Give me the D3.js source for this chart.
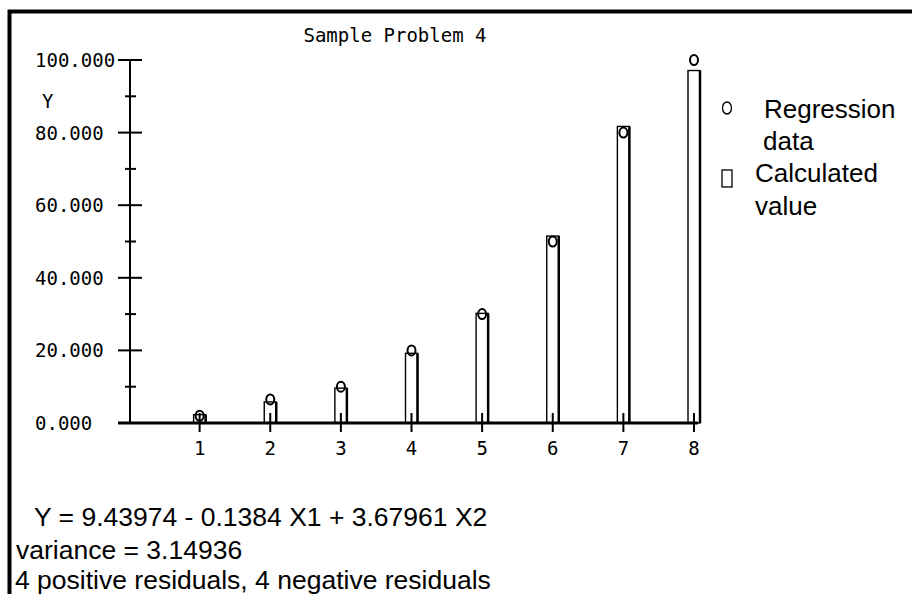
<!DOCTYPE html>
<html>
<head>
<meta charset="utf-8">
<script src="https://cdn.jsdelivr.net/npm/d3@7"></script>
<style>
    body { margin: 0; background: #fff; }
    svg { display: block; }
    .mono { font-family: "DejaVu Sans Mono", monospace; font-size: 19px; fill: #000; }
    .sans { font-family: "Liberation Sans", Arial, sans-serif; font-size: 26px; fill: #000; }
    .note { font-family: "Liberation Sans", Arial, sans-serif; font-size: 26.5px; fill: #000; }
</style>
</head>
<body>
<svg></svg>
<script>
const categories = [1, 2, 3, 4, 5, 6, 7, 8]
const regressionData = [2, 6.5, 10, 20, 30, 50, 80, 100]
const calculatedValue = [2.3, 5.8, 9.6, 19.2, 30.2, 51.5, 81.7, 97.1]
const majorTicks = [0, 20, 40, 60, 80, 100]
const minorTicks = [10, 30, 50, 70, 90]
const legendLabels = [["Regression", "data"], ["Calculated", "value"]]
const notes = [
    "Y = 9.43974 - 0.1384 X1 + 3.67961 X2",
    "variance = 3.14936",
    "4 positive residuals, 4 negative residuals"
]

const
    width = 912,
    height = 594

const svg = d3.select("svg")
    .attr("width", width)
    .attr("height", height)

const x = d3.scaleLinear()
    .domain([0, 8])
    .range([129, 694])

const y = d3.scaleLinear()
    .domain([0, 100])
    .range([423, 60])

// frame: top and left edge only
svg.append("path")
    .attr("d", `M9.5,${height} V11.5 H${width}`)
    .attr("fill", "none")
    .attr("stroke", "#000")
    .attr("stroke-width", 4)

svg.append("text")
    .attr("class", "mono")
    .attr("x", 395)
    .attr("y", 42)
    .attr("text-anchor", "middle")
    .text("Sample Problem 4")

// y axis
const yAxis = svg.append("g")
yAxis.append("line")
    .attr("x1", 130).attr("x2", 130)
    .attr("y1", y(100)).attr("y2", y(0))
    .attr("stroke", "#000").attr("stroke-width", 2)

yAxis.selectAll(".major")
    .data(majorTicks)
    .enter().append("line")
    .attr("x1", 118).attr("x2", 142)
    .attr("y1", d => y(d)).attr("y2", d => y(d))
    .attr("stroke", "#000").attr("stroke-width", 2)

yAxis.selectAll(".minor")
    .data(minorTicks)
    .enter().append("line")
    .attr("x1", 125).attr("x2", 136)
    .attr("y1", d => y(d)).attr("y2", d => y(d))
    .attr("stroke", "#000").attr("stroke-width", 2)

yAxis.selectAll("text")
    .data(majorTicks)
    .enter().append("text")
    .attr("class", "mono")
    .attr("x", 35)
    .attr("y", d => y(d) + 7)
    .text(d => d3.format(".3f")(d))

svg.append("text")
    .attr("class", "mono")
    .attr("x", 42)
    .attr("y", 108)
    .text("Y")

// bars (calculated value)
const bars = svg.append("g")
bars.selectAll("rect")
    .data(calculatedValue)
    .enter().append("rect")
    .attr("x", (d, i) => x(categories[i]) - 6)
    .attr("y", d => y(d))
    .attr("width", 12)
    .attr("height", d => y(0) - y(d))
    .attr("fill", "#fff")
    .attr("stroke", "#000")
    .attr("stroke-width", 1.4)

bars.selectAll("line")
    .data(calculatedValue)
    .enter().append("line")
    .attr("x1", (d, i) => x(categories[i]) + 6)
    .attr("x2", (d, i) => x(categories[i]) + 6)
    .attr("y1", d => y(d))
    .attr("y2", y(0))
    .attr("stroke", "#000")
    .attr("stroke-width", 2.5)

// x axis
const xAxis = svg.append("g")
xAxis.append("line")
    .attr("x1", 118).attr("x2", 698)
    .attr("y1", y(0)).attr("y2", y(0))
    .attr("stroke", "#000").attr("stroke-width", 3)

xAxis.selectAll(".tick")
    .data(categories)
    .enter().append("line")
    .attr("x1", d => x(d)).attr("x2", d => x(d))
    .attr("y1", 413).attr("y2", 432)
    .attr("stroke", "#000").attr("stroke-width", 2)

xAxis.selectAll("text")
    .data(categories)
    .enter().append("text")
    .attr("class", "mono")
    .attr("x", d => x(d))
    .attr("y", 455)
    .attr("text-anchor", "middle")
    .text(d => d)

// regression data points
svg.append("g")
    .selectAll("ellipse")
    .data(regressionData)
    .enter().append("ellipse")
    .attr("cx", (d, i) => x(categories[i]))
    .attr("cy", d => y(d))
    .attr("rx", 4)
    .attr("ry", 5)
    .attr("fill", "none")
    .attr("stroke", "#000")
    .attr("stroke-width", 2)

// legend
const legend = svg.append("g")
legend.append("ellipse")
    .attr("cx", 727).attr("cy", 108)
    .attr("rx", 4.5).attr("ry", 6)
    .attr("fill", "none").attr("stroke", "#000").attr("stroke-width", 1.3)
legend.append("rect")
    .attr("x", 722).attr("y", 170)
    .attr("width", 10).attr("height", 17)
    .attr("fill", "none").attr("stroke", "#000").attr("stroke-width", 1.3)

const legendPos = [[764, 118, 763, 150], [755, 182, 755, 215]]
legendLabels.forEach((lines, i) => {
    const p = legendPos[i]
    legend.append("text").attr("class", "sans").attr("x", p[0]).attr("y", p[1]).text(lines[0])
    legend.append("text").attr("class", "sans").attr("x", p[2]).attr("y", p[3]).text(lines[1])
})

// notes below the chart
const notePos = [[34, 526], [16, 559], [15, 589]]
svg.append("g")
    .selectAll("text")
    .data(notes)
    .enter().append("text")
    .attr("class", "note")
    .attr("x", (d, i) => notePos[i][0])
    .attr("y", (d, i) => notePos[i][1])
    .text(d => d)
</script>
</body>
</html>
